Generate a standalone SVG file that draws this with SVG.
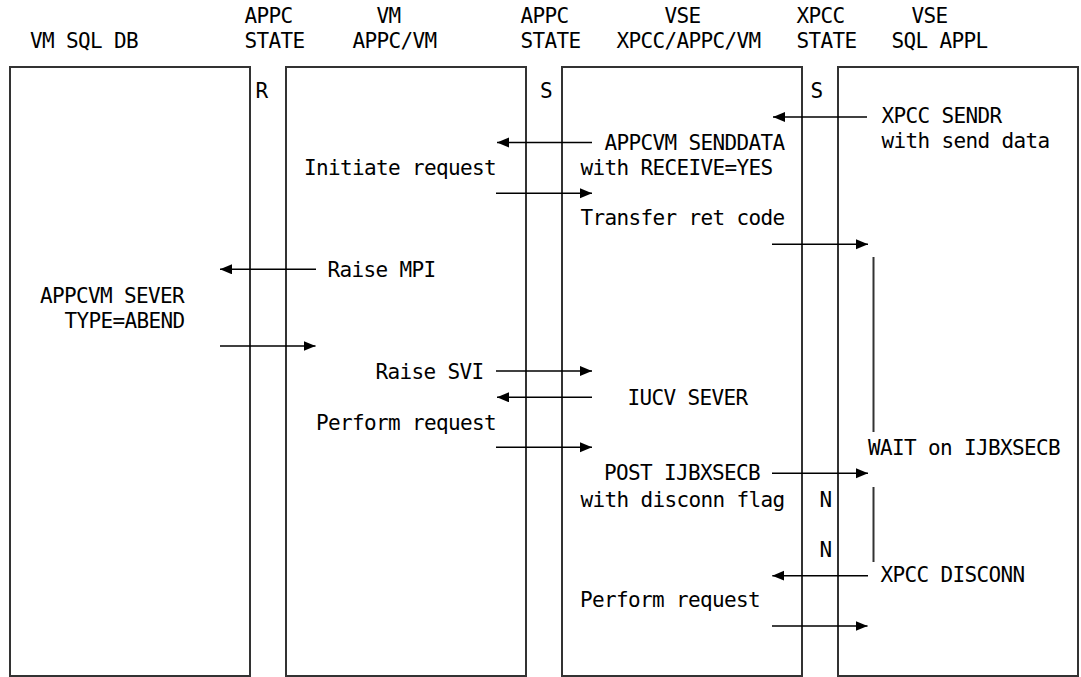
<svg xmlns="http://www.w3.org/2000/svg" width="1081" height="677" viewBox="0 0 1081 677">
<style>
text{font-family:"DejaVu Sans Mono","Liberation Mono",monospace;font-size:21px;letter-spacing:-0.64px;fill:#000}
.box{fill:none;stroke:#333;stroke-width:2}
.arr{stroke:#000;stroke-width:1.6;fill:none;marker-end:url(#ah)}
.vl{stroke:#333;stroke-width:2;fill:none}
</style>
<defs>
<marker id="ah" markerUnits="userSpaceOnUse" markerWidth="13" markerHeight="11" refX="12" refY="5" orient="auto">
<path d="M0,0 L12,5 L0,10 z" fill="#000"/>
</marker>
</defs>
<rect width="1081" height="677" fill="#fff"/>
<g id="headers">
<text x="30" y="48.3">VM SQL DB</text>
<text x="244.5" y="23.3">APPC</text>
<text x="244.5" y="48.3">STATE</text>
<text x="376.5" y="23.3">VM</text>
<text x="352.5" y="48.3">APPC/VM</text>
<text x="520.5" y="23.3">APPC</text>
<text x="520.5" y="48.3">STATE</text>
<text x="664.5" y="23.3">VSE</text>
<text x="616.5" y="48.3">XPCC/APPC/VM</text>
<text x="796.5" y="23.3">XPCC</text>
<text x="796.5" y="48.3">STATE</text>
<text x="911.5" y="23.3">VSE</text>
<text x="891.5" y="48.3">SQL APPL</text>
</g>
<g id="vm-sql-db">
<rect class="box" x="10" y="67" width="240" height="609"/>
<text x="40" y="303.3">APPCVM SEVER</text>
<text x="64.5" y="327.7">TYPE=ABEND</text>
</g>
<g id="vm-appc-vm">
<rect class="box" x="286" y="67" width="240" height="609"/>
<text x="304" y="175">Initiate request</text>
<text x="327.5" y="276.7">Raise MPI</text>
<text x="375.5" y="379.3">Raise SVI</text>
<text x="316" y="430">Perform request</text>
</g>
<g id="vse-xpcc-appc-vm">
<rect class="box" x="562" y="67" width="240" height="609"/>
<text x="604.5" y="150">APPCVM SENDDATA</text>
<text x="580.5" y="175">with RECEIVE=YES</text>
<text x="580.5" y="225">Transfer ret code</text>
<text x="627.5" y="405">IUCV SEVER</text>
<text x="604" y="480">POST IJBXSECB</text>
<text x="580.5" y="506.7">with disconn flag</text>
<text x="580" y="606.7">Perform request</text>
</g>
<g id="vse-sql-appl">
<rect class="box" x="838" y="67" width="240" height="609"/>
<text x="881.5" y="123.3">XPCC SENDR</text>
<text x="881.5" y="148.3">with send data</text>
<text x="868" y="455">WAIT on IJBXSECB</text>
<text x="880.5" y="581.7">XPCC DISCONN</text>
</g>
<g id="states">
<text x="255.5" y="98">R</text>
<text x="540" y="98">S</text>
<text x="810.5" y="98">S</text>
<text x="819.5" y="506.7">N</text>
<text x="819.5" y="556.7">N</text>
</g>
<g id="connectors">
<line class="arr" x1="867" y1="117" x2="773" y2="117"/>
<line class="arr" x1="592" y1="142.5" x2="497" y2="142.5"/>
<line class="arr" x1="496" y1="193.3" x2="592" y2="193.3"/>
<line class="arr" x1="772" y1="244.3" x2="868" y2="244.3"/>
<line class="arr" x1="316" y1="269.3" x2="220" y2="269.3"/>
<line class="arr" x1="220" y1="346" x2="315.5" y2="346"/>
<line class="arr" x1="496" y1="371" x2="592" y2="371"/>
<line class="arr" x1="592" y1="397.3" x2="497" y2="397.3"/>
<line class="arr" x1="496" y1="447.3" x2="592" y2="447.3"/>
<line class="arr" x1="772" y1="473.3" x2="868" y2="473.3"/>
<line class="arr" x1="868" y1="575.7" x2="772.3" y2="575.7"/>
<line class="arr" x1="772" y1="626" x2="867.5" y2="626"/>
<line class="vl" x1="873.5" y1="257" x2="873.5" y2="432"/>
<line class="vl" x1="873.5" y1="487" x2="873.5" y2="562"/>
</g>
</svg>
